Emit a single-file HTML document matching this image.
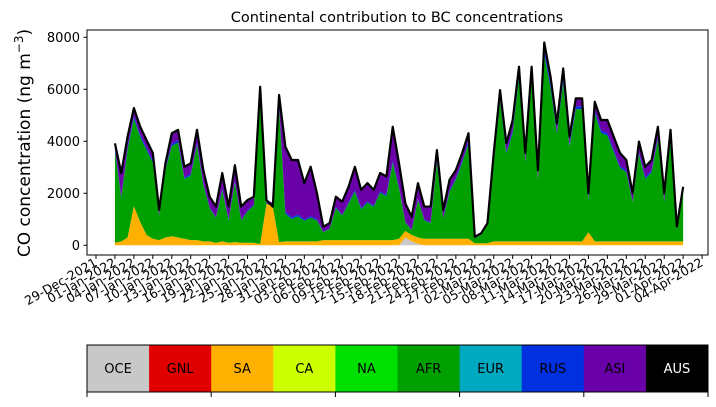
<!DOCTYPE html>
<html><head><meta charset="utf-8">
<style>
body{margin:0;background:#fff;font-family:"Liberation Sans","DejaVu Sans",sans-serif;}
svg text{font-family:"DejaVu Sans","Liberation Sans",sans-serif;}
</style></head>
<body>
<svg id="chart" width="716" height="402" viewBox="0 0 716 402" xmlns="http://www.w3.org/2000/svg">
<text x="397" y="22" text-anchor="middle" font-size="14.5">Continental contribution to BC concentrations</text>
<text transform="translate(30,143) rotate(-90)" text-anchor="middle" font-size="17">CO concentration (ng m<tspan font-size="12" dy="-7">−3</tspan><tspan dy="7">)</tspan></text>
<g id="areas"></g>
<rect x="87" y="30" width="621" height="225" fill="none" stroke="#000" stroke-width="1"/>
<g id="yaxis"></g>
<g id="xaxis"></g>
<g id="legend"></g>
</svg>
<script>
const yTicks=[0,2000,4000,6000,8000];
const xTickLabels=["29-Dec-2021","01-Jan-2022","04-Jan-2022","07-Jan-2022","10-Jan-2022","13-Jan-2022","16-Jan-2022","19-Jan-2022","22-Jan-2022","25-Jan-2022","28-Jan-2022","31-Jan-2022","03-Feb-2022","06-Feb-2022","09-Feb-2022","12-Feb-2022","15-Feb-2022","18-Feb-2022","21-Feb-2022","24-Feb-2022","27-Feb-2022","02-Mar-2022","05-Mar-2022","08-Mar-2022","11-Mar-2022","14-Mar-2022","17-Mar-2022","20-Mar-2022","23-Mar-2022","26-Mar-2022","29-Mar-2022","01-Apr-2022","04-Apr-2022"];
const regions=["OCE","GNL","SA","CA","NA","AFR","EUR","RUS","ASI","AUS"];
const regionColors=["#c8c8c8","#e00000","#ffb000","#ccff00","#00e000","#00a000","#00a8c0","#0030e0","#6a00a8","#000000"];
// daily values starting 01-Jan-2022
const total=[3920,2780,4180,5280,4560,4050,3550,1360,3160,4310,4440,3020,3150,4440,2890,1870,1490,2780,1490,3080,1490,1740,1870,6100,1740,1490,5780,3790,3280,3280,2390,3020,2000,720,850,1870,1680,2250,3020,2130,2390,2130,2780,2650,4560,3150,1610,1100,2390,1490,1490,3660,1360,2520,2890,3550,4310,330,460,850,3550,5970,3920,4820,6870,3550,6870,2890,7800,6480,4690,6800,4180,5650,5650,2000,5520,4820,4820,4180,3550,3280,2000,3990,3020,3280,4560,2000,4440,720,2250];
const sa=[100,150,300,1500,900,400,250,200,300,350,300,250,200,200,150,150,100,150,100,120,100,100,100,50,1600,1500,120,150,150,150,150,150,150,200,200,200,200,200,200,200,200,200,200,200,200,250,250,250,250,250,250,250,250,250,250,250,250,80,80,80,150,150,150,150,150,150,150,150,150,150,150,150,150,150,150,500,150,150,150,150,150,150,150,150,150,150,150,150,150,150,150];
const asi=[200,900,400,300,300,300,300,200,200,400,400,400,400,500,500,400,400,600,500,600,500,400,300,100,100,100,400,2500,2200,2100,1400,1900,1000,200,200,400,500,600,900,700,700,600,700,700,1300,900,700,500,600,500,600,400,300,400,300,300,300,50,50,50,300,300,300,400,300,300,300,300,300,300,300,400,300,300,300,200,300,400,500,500,500,400,300,400,400,400,400,300,300,100,100];
const oce=[0,0,0,0,0,0,0,0,0,0,0,0,0,0,0,0,0,0,0,0,0,0,0,0,0,0,0,0,0,0,0,0,0,0,0,0,0,0,0,0,0,0,0,0,0,0,300,150,50,0,0,0,0,0,0,0,0,0,0,0,0,0,0,0,0,0,0,0,0,0,0,0,0,0,0,0,0,0,0,0,0,0,0,0,0,0,0,0,0,0,0];
const rusFrac=0.02;

const X0=96, DX=18.94/3, Y0=245.3, YS=0.026;
const xDay=d=>X0+DX*(d+3); // day 0 = 01-Jan (tick index 1)
const yVal=v=>Y0-v*YS;
const NS="http://www.w3.org/2000/svg";
function mk(t,a){const e=document.createElementNS(NS,t);for(const k in a)e.setAttribute(k,a[k]);return e;}

// stack layers: oce, sa, afr, rus, asi, aus(line)
const n=total.length;
const layers=[[],[],[],[],[]];
for(let i=0;i<n;i++){
  const o=oce[i], s=sa[i], a=asi[i];
  const r=total[i]*rusFrac;
  const af=Math.max(0,total[i]-o-s-a-r);
  layers[0].push(o);layers[1].push(s);layers[2].push(af);layers[3].push(r);layers[4].push(a);
}
const layerColors=[regionColors[0],regionColors[2],regionColors[5],regionColors[7],regionColors[8]];
const layerNames=["area-oce","area-sa","area-afr","area-rus","area-asi"];
const areas=document.getElementById('areas');
let base=new Array(n).fill(0);
for(let L=0;L<layers.length;L++){
  const top=base.map((b,i)=>b+layers[L][i]);
  let d="M"+xDay(0)+","+yVal(base[0]);
  for(let i=0;i<n;i++)d+="L"+xDay(i).toFixed(2)+","+yVal(top[i]).toFixed(2);
  for(let i=n-1;i>=0;i--)d+="L"+xDay(i).toFixed(2)+","+yVal(base[i]).toFixed(2);
  d+="Z";
  const p=mk('path',{d:d,fill:layerColors[L],stroke:'none'});
  
  
  areas.appendChild(p);
  base=top;
}
let ld="";
for(let i=0;i<n;i++)ld+=(i?"L":"M")+xDay(i).toFixed(2)+","+yVal(total[i]).toFixed(2);
const line=mk('path',{d:ld,fill:'none',stroke:'#000','stroke-width':2.2,'stroke-linejoin':'round'});


areas.appendChild(line);

const ya=document.getElementById('yaxis');
yTicks.forEach(v=>{
  const y=yVal(v);
  const t=mk('line',{x1:83.5,x2:87,y1:y,y2:y,stroke:'#000'});
  
  
  ya.appendChild(t);
  const l=mk('text',{x:80,y:y+4.5,'text-anchor':'end','font-size':13});
  
  
  l.textContent=v;ya.appendChild(l);
});
const xa=document.getElementById('xaxis');
for(let k=0;k<=xTickLabels.length;k++){
  const x=X0+18.94*k;
  const t=mk('line',{x1:x,x2:x,y1:255,y2:259,stroke:'#000'});
  
  
  xa.appendChild(t);
  if(k<xTickLabels.length){
    const l=mk('text',{transform:`translate(${x+2},${265}) rotate(-30)`,'text-anchor':'end','font-size':12.5});
    
    
    l.textContent=xTickLabels[k];xa.appendChild(l);
  }
}
const lg=document.getElementById('legend');
const cw=621/regions.length;
regions.forEach((r,i)=>{
  const x=87+cw*i;
  const c=mk('rect',{x:x,y:345,width:cw+0.5,height:47,fill:regionColors[i]});
  
  
  lg.appendChild(c);
  const t=mk('text',{x:x+cw/2,y:373,'text-anchor':'middle','font-size':13,fill:i==9?'#fff':'#000'});
  
  
  t.textContent=r;lg.appendChild(t);
});
const fr=mk('rect',{x:87,y:345,width:621,height:47,fill:'none',stroke:'#000'});


lg.appendChild(fr);
for(let k=0;k<=5;k++){
  const x=87+cw*2*k;
  const t=mk('line',{x1:x,x2:x,y1:392,y2:397,stroke:'#000'});
  
  
  lg.appendChild(t);
}
</script>
</body></html>
